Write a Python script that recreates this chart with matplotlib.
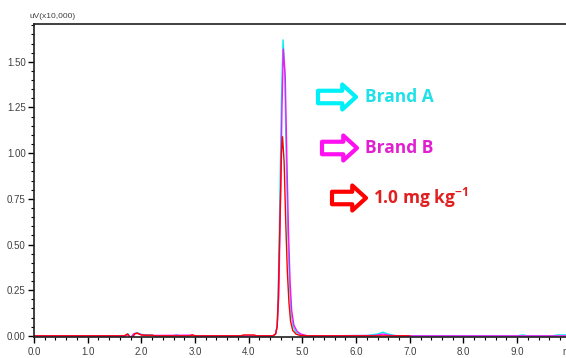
import matplotlib
matplotlib.use("Agg")
import matplotlib.pyplot as plt
from matplotlib.ticker import MultipleLocator, FormatStrFormatter

# retention time (min) / intensity (uV x10,000)
t_a = [0.0, 1.70, 1.75, 1.80, 1.86, 1.92, 2.00, 2.15, 2.20, 2.25, 2.60, 2.65, 2.72,
       4.45, 4.50, 4.53, 4.55, 4.58, 4.61, 4.64, 4.67, 4.70, 4.73, 4.76, 4.79, 4.83,
       4.88, 4.95, 5.05, 6.20, 6.40, 6.50, 6.60, 6.75, 9.00, 9.10, 9.20, 9.65, 9.75, 9.92]
y_a = [0.0, 0.0, 0.012, -0.008, 0.010, 0.018, 0.008, 0.004, 0.006, 0.0, 0.0, 0.006, 0.0,
       0.0, 0.01, 0.06, 0.25, 0.75, 1.30, 1.62, 1.45, 0.95, 0.55, 0.28, 0.12, 0.05,
       0.02, 0.01, 0.0, 0.002, 0.010, 0.020, 0.010, 0.0, 0.0, 0.005, 0.0, 0.0, 0.005, 0.005]

t_b = [0.0, 1.70, 1.75, 1.80, 1.86, 1.92, 2.00, 2.10, 2.95, 3.00,
       4.45, 4.50, 4.53, 4.56, 4.59, 4.62, 4.645, 4.68, 4.71, 4.74, 4.77, 4.80, 4.84,
       4.90, 4.97, 5.10, 6.35, 6.50, 6.65, 7.00, 9.92]
y_b = [0.0, 0.0, 0.008, -0.010, 0.012, 0.015, 0.006, 0.002, 0.004, 0.0,
       0.0, 0.01, 0.05, 0.22, 0.70, 1.25, 1.57, 1.42, 0.98, 0.58, 0.30, 0.14, 0.06,
       0.025, 0.01, 0.0, 0.002, 0.010, 0.002, 0.0, 0.0]

t_std = [0.0, 1.68, 1.74, 1.82, 1.88, 1.93, 2.00, 2.05, 2.20, 2.25, 2.90, 2.95, 3.00,
         3.85, 3.90, 4.10, 4.15, 4.45, 4.50, 4.53, 4.55, 4.58, 4.61, 4.63, 4.66, 4.69,
         4.72, 4.75, 4.78, 4.82, 4.88, 4.95, 5.10, 6.40, 7.00]
y_std = [0.0, 0.0, 0.010, -0.016, 0.012, 0.014, 0.005, 0.004, 0.004, 0.0, 0.0, 0.006, 0.0,
         0.0, 0.005, 0.005, 0.0, 0.0, 0.01, 0.05, 0.20, 0.60, 1.00, 1.09, 0.95, 0.62,
         0.35, 0.18, 0.08, 0.03, 0.01, 0.003, 0.0, 0.0, 0.0]

labels = ["Brand A", "Brand B", "1.0 mg kg$^{-1}$"]
colors = ["#00f0f8", "#ff10f0", "#ff0000"]
text_colors = ["#20e0e8", "#e020d0", "#e02020"]

plt.rcParams["mathtext.fontset"] = "custom"
plt.rcParams["mathtext.rm"] = "Open Sans:bold"
plt.rcParams["mathtext.it"] = "Open Sans:bold"
plt.rcParams["mathtext.bf"] = "Open Sans:bold"

fig = plt.figure(figsize=(5.66, 3.58), dpi=100)
ax = fig.add_axes([0.060, 0.0587, 0.94, 0.8743])

for (t, y), c in zip([(t_a, y_a), (t_b, y_b), (t_std, y_std)], colors):
    ax.plot(t, y, color=c, lw=1.0)

ax.set_xlim(0, 9.91)
ax.set_ylim(-0.006, 1.707)

ax.xaxis.set_major_locator(MultipleLocator(1.0))
ax.xaxis.set_minor_locator(MultipleLocator(0.2))
ax.yaxis.set_major_locator(MultipleLocator(0.25))
ax.yaxis.set_minor_locator(MultipleLocator(0.05))
ax.xaxis.set_major_formatter(FormatStrFormatter("%.1f"))
ax.yaxis.set_major_formatter(FormatStrFormatter("%.2f"))

narrow = ["Liberation Sans", "DejaVu Sans"]
ax.tick_params(which="major", direction="out", length=4, width=1, labelsize=7,
               labelcolor="#404040")
ax.tick_params(axis="x", which="major", pad=3)
ax.tick_params(axis="y", which="major", pad=2)
ax.tick_params(which="minor", direction="out", length=2.5, width=0.8)
for lab in ax.get_xticklabels() + ax.get_yticklabels():
    lab.set_family(narrow)

ax.spines["right"].set_visible(False)
for s in ["left", "bottom", "top"]:
    ax.spines[s].set_linewidth(1.2)
    ax.spines[s].set_color("#202020")

fig.text(30 / 566, 1 - 17 / 358, "uV(x10,000)", fontsize=6, color="#404040",
         family=narrow, va="center", ha="left")
fig.text(562 / 566, 1 - 352 / 358, "min", fontsize=7, color="#404040",
         family=narrow, va="center", ha="left")

# arrows + labels (pixel positions from the reference)
rows = [(318, 356, 365, 97), (322, 357, 365, 148), (332, 366, 373, 198)]
for (x0, x1, xt, yp), c, tc, lab in zip(rows, colors, text_colors, labels):
    yf = 1 - yp / 358
    ax.annotate("", xy=(x1 / 566, yf), xytext=(x0 / 566, yf),
                xycoords="figure fraction", textcoords="figure fraction",
                arrowprops=dict(arrowstyle="simple,head_length=0.55,head_width=1.0,tail_width=0.5",
                                mutation_scale=18, fc="white", ec=c, lw=3,
                                shrinkA=0, shrinkB=0))
    fig.text(xt / 566, yf, lab, color=tc, fontsize=12.5, fontweight="bold",
             family=["Open Sans", "DejaVu Sans"], va="center", ha="left")

fig.savefig("out.png", dpi=100)
